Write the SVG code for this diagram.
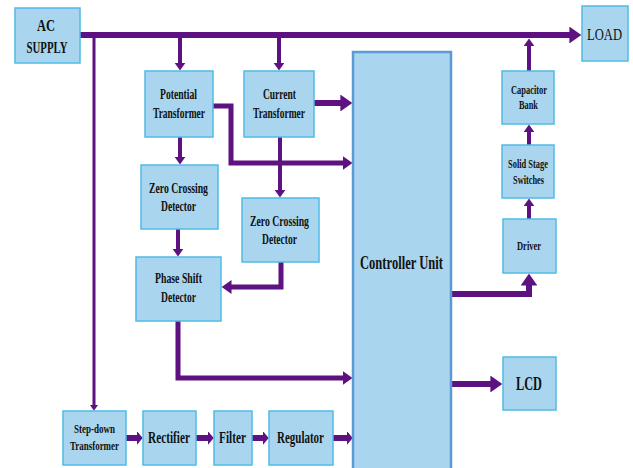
<svg xmlns="http://www.w3.org/2000/svg" width="633" height="468" viewBox="0 0 633 468">
<style>
.box{fill:#a9d5ef;stroke:#4fbbe6;stroke-width:1.5}
.ctrl{fill:#a9d5ef;stroke:#5b9bd5;stroke-width:2.5}
.t{font-family:"Liberation Serif","Times New Roman",serif;font-weight:bold;fill:#111;text-anchor:middle}
.c{fill:none;stroke:#5e1180;stroke-linejoin:miter}
.a{marker-end:url(#ah)}
.s{marker-end:url(#as)}
</style>
<defs>
<marker id="ah" viewBox="0 0 10 10" refX="0.5" refY="5" markerWidth="2" markerHeight="2.8" markerUnits="strokeWidth" orient="auto" preserveAspectRatio="none"><path d="M0,0 L10,5 L0,10 z" fill="#5e1180"/></marker>
<marker id="as" viewBox="0 0 10 10" refX="0.5" refY="5" markerWidth="1" markerHeight="2.4" markerUnits="strokeWidth" orient="auto" preserveAspectRatio="none"><path d="M0,0 L10,5 L0,10 z" fill="#5e1180"/></marker>
</defs>
<g id="connectors">
<path class="c a" stroke-width="6" d="M80,35 H570"/>
<path class="c a" stroke-width="4" d="M180,35 V63"/>
<path class="c a" stroke-width="4" d="M279,35 V63"/>
<path class="c a" stroke-width="3" d="M94,35 V405"/>
<path class="c a" stroke-width="6" d="M314,103 H341"/>
<path class="c a" stroke-width="5" d="M213,106 H231 V163 H343"/>
<path class="c a" stroke-width="4" d="M180,137 V157"/>
<path class="c a" stroke-width="4" d="M280,137 V190"/>
<path class="c a" stroke-width="4" d="M178,229 V249"/>
<path class="c a" stroke-width="5" d="M281,262 V287 H231"/>
<path class="c a" stroke-width="5" d="M178,321 V378 H343"/>
<path class="c s" stroke-width="6" d="M126,438 H137"/>
<path class="c s" stroke-width="6" d="M196,438 H208"/>
<path class="c s" stroke-width="6" d="M252,438 H263"/>
<path class="c s" stroke-width="6" d="M333,438 H347"/>
<path class="c a" stroke-width="6" d="M451,294 H529 V285"/>
<path class="c a" stroke-width="4" d="M529,219 V206"/>
<path class="c a" stroke-width="4" d="M529,145 V132"/>
<path class="c a" stroke-width="4" d="M529,71 V46"/>
<path class="c a" stroke-width="6" d="M451,384 H491"/>
</g>
<g id="ac-supply"><rect class="box" x="15" y="8" width="65" height="55"/><text class="t" x="46" y="31" font-size="17" textLength="18" lengthAdjust="spacingAndGlyphs">AC</text><text class="t" x="47" y="53" font-size="17" textLength="41" lengthAdjust="spacingAndGlyphs">SUPPLY</text></g>
<g id="load"><rect class="box" x="582" y="6" width="46" height="55"/><text class="t" x="604.5" y="40" font-size="17" style="font-weight:normal" textLength="35" lengthAdjust="spacingAndGlyphs">LOAD</text></g>
<g id="potential-transformer"><rect class="box" x="145" y="71" width="68" height="66"/><text class="t" x="178.5" y="99" font-size="15.5" textLength="37" lengthAdjust="spacingAndGlyphs">Potential</text><text class="t" x="179" y="118" font-size="15.5" textLength="52" lengthAdjust="spacingAndGlyphs">Transformer</text></g>
<g id="current-transformer"><rect class="box" x="244" y="71" width="70" height="66"/><text class="t" x="279.5" y="99" font-size="15.5" textLength="33" lengthAdjust="spacingAndGlyphs">Current</text><text class="t" x="279" y="118" font-size="15.5" textLength="52" lengthAdjust="spacingAndGlyphs">Transformer</text></g>
<g id="controller-unit"><rect class="ctrl" x="353" y="52" width="98" height="420"/><text class="t" x="401.5" y="269" font-size="18" textLength="83" lengthAdjust="spacingAndGlyphs">Controller Unit</text></g>
<g id="zcd1"><rect class="box" x="141" y="165" width="77" height="64"/><text class="t" x="178.5" y="193" font-size="15.5" textLength="59" lengthAdjust="spacingAndGlyphs">Zero Crossing</text><text class="t" x="178.5" y="211" font-size="15.5" textLength="35" lengthAdjust="spacingAndGlyphs">Detector</text></g>
<g id="zcd2"><rect class="box" x="242" y="198" width="77" height="64"/><text class="t" x="279.5" y="226" font-size="15.5" textLength="59" lengthAdjust="spacingAndGlyphs">Zero Crossing</text><text class="t" x="279.5" y="244" font-size="15.5" textLength="35" lengthAdjust="spacingAndGlyphs">Detector</text></g>
<g id="phase-shift-detector"><rect class="box" x="136" y="257" width="85" height="64"/><text class="t" x="178.5" y="283" font-size="15.5" textLength="47" lengthAdjust="spacingAndGlyphs">Phase Shift</text><text class="t" x="178.5" y="302" font-size="15.5" textLength="35" lengthAdjust="spacingAndGlyphs">Detector</text></g>
<g id="capacitor-bank"><rect class="box" x="502" y="71" width="52" height="53"/><text class="t" x="529" y="94" font-size="13" textLength="36" lengthAdjust="spacingAndGlyphs">Capacitor</text><text class="t" x="528.5" y="109" font-size="13" textLength="19" lengthAdjust="spacingAndGlyphs">Bank</text></g>
<g id="solid-stage-switches"><rect class="box" x="502" y="145" width="52" height="53"/><text class="t" x="528" y="168" font-size="13" textLength="40" lengthAdjust="spacingAndGlyphs">Solid Stage</text><text class="t" x="528.5" y="184" font-size="13" textLength="31" lengthAdjust="spacingAndGlyphs">Switches</text></g>
<g id="driver"><rect class="box" x="503" y="219" width="53" height="54"/><text class="t" x="529" y="250" font-size="13" textLength="24" lengthAdjust="spacingAndGlyphs">Driver</text></g>
<g id="lcd"><rect class="box" x="503" y="357" width="53" height="53"/><text class="t" x="529" y="390" font-size="18" textLength="26" lengthAdjust="spacingAndGlyphs">LCD</text></g>
<g id="step-down-transformer"><rect class="box" x="63" y="411" width="63" height="54"/><text class="t" x="94.5" y="433" font-size="13" textLength="41" lengthAdjust="spacingAndGlyphs">Step-down</text><text class="t" x="94.5" y="450" font-size="13" textLength="49" lengthAdjust="spacingAndGlyphs">Transformer</text></g>
<g id="rectifier"><rect class="box" x="143" y="411" width="53" height="54"/><text class="t" x="169" y="443" font-size="16" textLength="42" lengthAdjust="spacingAndGlyphs">Rectifier</text></g>
<g id="filter"><rect class="box" x="214" y="411" width="38" height="54"/><text class="t" x="232.5" y="443" font-size="16" textLength="27" lengthAdjust="spacingAndGlyphs">Filter</text></g>
<g id="regulator"><rect class="box" x="269" y="411" width="64" height="54"/><text class="t" x="300.5" y="443" font-size="16" textLength="47" lengthAdjust="spacingAndGlyphs">Regulator</text></g>
</svg>
